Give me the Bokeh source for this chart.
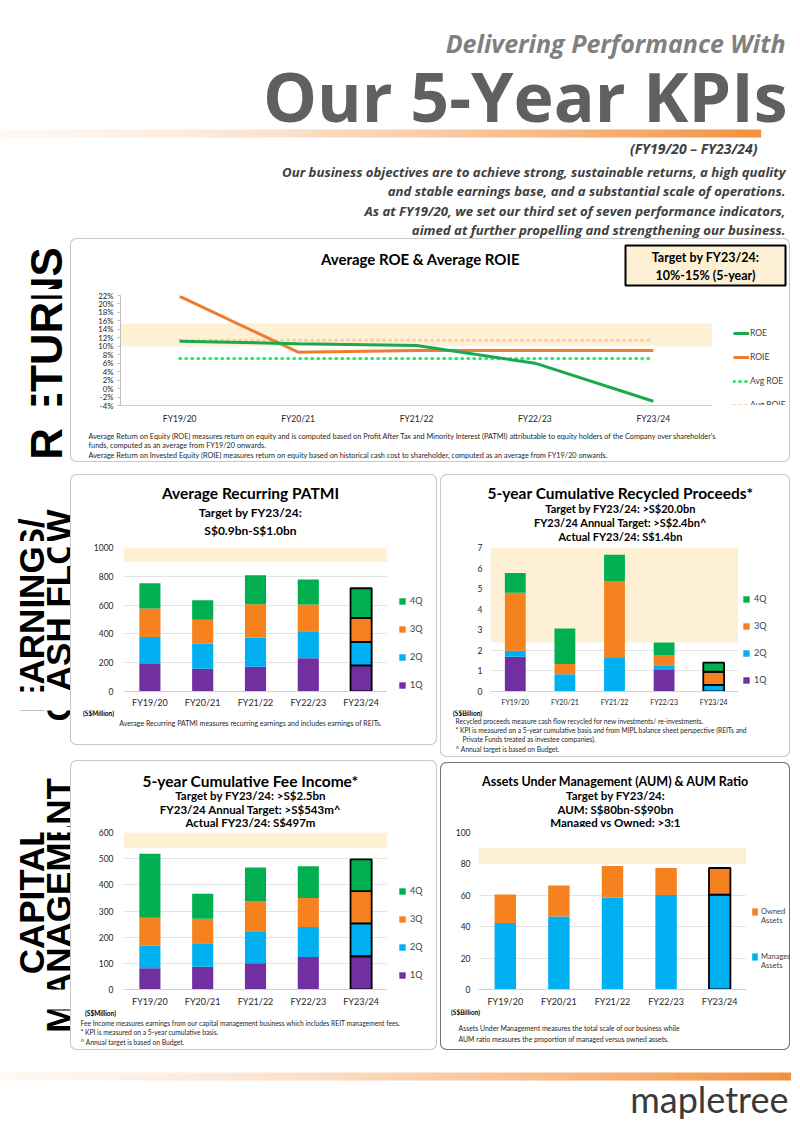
import math
from bokeh.plotting import figure
from bokeh.models import (Range1d, FactorRange, Label, Legend, LegendItem, ColumnDataSource,
                          FixedTicker, PrintfTickFormatter, BoxAnnotation)
from bokeh.layouts import column, row
from bokeh.embed import file_html
from bokeh.resources import INLINE
from bokeh.core.properties import field, value

# ---------------- data ----------------
years = ["FY19/20", "FY20/21", "FY21/22", "FY22/23", "FY23/24"]
highlight = "FY23/24"

roe = [11.2, 10.6, 10.2, 6.0, -3.0]
roie = [21.8, 8.6, 9.0, 9.0, 9.0]
avg_roe = [7.1, 7.1, 7.1, 7.1, 7.1]
avg_roie = [11.4, 11.4, 11.4, 11.4, 11.4]
roe_target = [10.0, 15.4]
roe_ticks = [-4, -2, 0, 2, 4, 6, 8, 10, 12, 14, 16, 18, 20, 22]

patmi_1q = [197, 158, 172, 231, 181]
patmi_2q = [181, 175, 201, 188, 163]
patmi_3q = [199, 165, 233, 185, 167]
patmi_4q = [174, 135, 202, 174, 206]
patmi_target = [900, 1000]
patmi_ticks = [0, 200, 400, 600, 800, 1000]

rec_1q = [1.69, 0.0, 0.0, 1.05, 0.0]
rec_2q = [0.29, 0.84, 1.63, 0.22, 0.32]
rec_3q = [2.82, 0.50, 3.72, 0.50, 0.64]
rec_4q = [0.96, 1.72, 1.30, 0.61, 0.44]
rec_target = [2.4, 7.0]
rec_ticks = [0, 1, 2, 3, 4, 5, 6, 7]

fee_1q = [81, 87, 100, 124, 127]
fee_2q = [86, 90, 120, 115, 126]
fee_3q = [107, 93, 116, 111, 123]
fee_4q = [245, 96, 130, 121, 121]
fee_target = [540, 600]
fee_ticks = [0, 100, 200, 300, 400, 500, 600]

aum_managed = [42.3, 46.5, 58.5, 60.2, 60.4]
aum_owned = [18.2, 19.8, 20.2, 17.2, 17.0]
aum_target = [80, 90]
aum_ticks = [0, 20, 40, 60, 80, 100]

quarters = ["1Q", "2Q", "3Q", "4Q"]

# ---------------- styles ----------------
FONT = "Lato"
HFONT = "Open Sans"
SFONT = "Liberation Sans"
QCOL = ["#7030a0", "#00b0f0", "#f5821f", "#00b050"]
BAND = "#fdf0d5"
TXT = "#262626"
LIGHT = "#c8c8c8"
DARK = "#707070"
C_ROE, C_ROIE, C_AROE, C_AROIE = "#1ca84c", "#ee7d31", "#2ee86b", "#f9cda6"


def mix(c0, c1, t):
    a = [int(c0[i:i + 2], 16) for i in (1, 3, 5)]
    b = [int(c1[i:i + 2], 16) for i in (1, 3, 5)]
    return "#%02x%02x%02x" % tuple(round(a[k] + (b[k] - a[k]) * t) for k in range(3))


def frame_style(part, color):
    if part is None:
        return {}
    sh = []
    rad = "0"
    if part in ("top", "bottom", "mid", "midL"):
        sh.append(f"inset 1px 0 0 {color}")
    if part in ("top", "bottom", "mid", "midR"):
        sh.append(f"inset -1px 0 0 {color}")
    if part == "top":
        sh.append(f"inset 0 1px 0 {color}")
        rad = "7px 7px 0 0"
    elif part == "bottom":
        sh.append(f"inset 0 -1px 0 {color}")
        rad = "0 0 7px 7px"
    return {"box-shadow": ", ".join(sh), "border-radius": rad}


def deco(W, H, part=None, color=LIGHT, margin=(0, 0, 0, 0)):
    p = figure(width=W, height=H, x_range=Range1d(0, W), y_range=Range1d(H, 0),
               x_axis_type=None, y_axis_type=None, output_backend="svg",
               toolbar_location=None, min_border=0, margin=margin,
               styles=frame_style(part, color))
    p.outline_line_color = None
    p.border_fill_alpha = 0
    p.background_fill_alpha = 0
    return p


def dtext(p, x, y, text, size, font=FONT, style="bold", align="center", color="#000000"):
    p.add_layout(Label(x=x, y=y, text=text, text_font=font, text_font_size=f"{size}px",
                       text_font_style=style, text_align=align, text_baseline="middle",
                       text_color=color))


def side_pieces(heights, labels, size):
    """Side label column split into stacked pieces; each piece shows its slice of the rotated text."""
    pieces = []
    off = 0
    for h in heights:
        p = deco(70, h)
        for x, y, t in labels:
            p.text(x=[x], y=[y - off], text=[t], angle=math.pi / 2, text_font=value(SFONT),
                   text_font_style="bold", text_font_size=value(f"{size}px"), text_align="center",
                   text_baseline="middle", text_color="#000000")
        pieces.append(p)
        off += h
    return pieces


def gradient(p, x0, x1, ytop, ybot, c0, c1, n=90, gamma=1.5):
    step = (x1 - x0) / n
    lefts = [x0 + i * step for i in range(n)]
    rights = [x0 + (i + 1) * step + 0.6 for i in range(n)]
    cols = [mix(c0, c1, (i / (n - 1)) ** gamma) for i in range(n)]
    p.quad(left=lefts, right=rights, top=[ytop] * n, bottom=[ybot] * n,
           fill_color=cols, line_color=None)


def chart(W, H, ml, mt, mb, y_range, ticks, xstand, ystand, color=LIGHT):
    p = figure(width=W, height=H, x_range=FactorRange(*years), y_range=y_range,
               output_backend="svg", toolbar_location=None,
               min_border_left=ml, min_border_right=0, min_border_top=mt, min_border_bottom=mb,
               styles=frame_style("midL", color))
    p.outline_line_color = None
    p.border_fill_alpha = 0
    p.background_fill_alpha = 0
    p.xgrid.grid_line_color = None
    p.ygrid.grid_line_color = "#e4e4e4"
    p.yaxis.ticker = FixedTicker(ticks=ticks)
    for ax in p.axis:
        ax.major_label_text_font = FONT
        ax.major_label_text_color = TXT
        ax.minor_tick_line_color = None
        ax.major_tick_line_color = None
        ax.major_tick_out = 0
        ax.major_tick_in = 0
    p.yaxis.axis_line_color = None
    p.xaxis.axis_line_color = "#d0d0d0"
    p.xaxis.major_label_text_font_size = "9px"
    p.yaxis.major_label_text_font_size = "8.5px"
    p.xaxis.major_label_standoff = xstand
    p.yaxis.major_label_standoff = ystand
    return p


OFF = -5000  # swatch renderers sit far outside the visible range; only their legend glyphs show


def legend_fig(W, H, entries, vx, vy, spacing, size=9, gw=8, gh=8, standoff=4,
               color=LIGHT, margin=(0, 0, 0, 0)):
    """Legend drawn in its own strip to the right of a chart."""
    p = deco(W, H, "midR", color, margin)
    items = []
    for label, kind, kw in entries:
        if kind == "box":
            r = p.vbar(x=[OFF], top=[OFF], bottom=[OFF - 1], width=1, line_color=None, **kw)
        elif kind == "line":
            r = p.line(x=[OFF, OFF + 1], y=[OFF, OFF], **kw)
        else:
            r = p.vbar(x=[], top=[], width=1, fill_alpha=0, line_alpha=0)
        items.append(LegendItem(label=label, renderers=[r]))
    lg = Legend(items=items, location=(vx, vy), orientation="vertical", background_fill_alpha=0,
                border_line_color=None, padding=0, margin=0, spacing=spacing,
                glyph_width=gw, glyph_height=gh, label_height=gh, label_standoff=standoff,
                label_text_font=FONT, label_text_font_size=f"{size}px",
                label_text_color="#404040", label_text_baseline="middle")
    p.add_layout(lg)
    return p


def band(p, lo, hi):
    p.add_layout(BoxAnnotation(bottom=lo, top=hi, fill_color=BAND, fill_alpha=1.0,
                               line_color=None, level="underlay"))


edge = ["#000000" if y == highlight else "rgba(0,0,0,0)" for y in years]


def stacked(p, data, width):
    src = ColumnDataSource(dict(years=years, q1=data[0], q2=data[1], q3=data[2], q4=data[3], edge=edge))
    return p.vbar_stack(["q1", "q2", "q3", "q4"], x="years", width=width, fill_color=QCOL,
                        line_color=field("edge"), line_width=1.8, source=src)


qentries = [(quarters[3], "box", dict(fill_color=QCOL[3])),
            (quarters[2], "box", dict(fill_color=QCOL[2])),
            (quarters[1], "box", dict(fill_color=QCOL[1])),
            (quarters[0], "box", dict(fill_color=QCOL[0]))]

# ---------------- header ----------------
hdr = deco(800, 238)
dtext(hdr, 785, 42, "Delivering Performance With", 25, HFONT, "bold italic", "right", "#808080")
dtext(hdr, 787, 95, "Our 5-Year KPIs", 68, HFONT, "bold", "right", "#606060")
gradient(hdr, 0, 760, 129, 137, "#fef7f2", "#f39140")
dtext(hdr, 757, 148, "(FY19/20 \u2013 FY23/24)", 14, HFONT, "bold italic", "right", "#404040")
para = ["Our business objectives are to achieve strong, sustainable returns, a high quality",
        "and stable earnings base, and a substantial scale of operations.",
        "As at FY19/20, we set our third set of seven performance indicators,",
        "aimed at further propelling and strengthening our business."]
for i, t in enumerate(para):
    dtext(hdr, 785, 171 + 19.5 * i, t, 13.2, HFONT, "bold italic", "right", "#404040")

# ---------------- side labels (pieces per sub-row) ----------------
s1 = side_pieces([51, 137, 38], [(46, 115, "RETURNS")], 44)
s2 = side_pieces([77, 169, 47], [(31, 151, "EARNINGS/"), (58, 151, "CASH FLOW")], 35)
s3 = side_pieces([70, 182, 43], [(31, 148, "CAPITAL"), (58, 148, "MANAGEMENT")], 35)

# ---------------- ROE ----------------
rt = deco(720, 51, "top", margin=(0, 10, 0, 0))
dtext(rt, 350, 20, "Average ROE & Average ROIE", 15)
rt.quad(left=[555], right=[715], top=[7], bottom=[47], fill_color=BAND, line_color="#000000", line_width=2)
dtext(rt, 635, 19, "Target by FY23/24:", 12.5)
dtext(rt, 635, 37, "10%-15% (5-year)", 12.5)

pr = chart(642, 137, 50, 6, 21, Range1d(-4, 22), roe_ticks, 8, 4)
pr.ygrid.grid_line_color = None
pr.yaxis.formatter = PrintfTickFormatter(format="%d%%")
pr.yaxis.axis_line_color = "#bfbfbf"
pr.yaxis.major_tick_line_color = "#bfbfbf"
pr.yaxis.major_tick_out = 3
pr.yaxis.major_label_text_font_size = "7.8px"
pr.xaxis.major_label_text_font_size = "8.5px"
band(pr, roe_target[0], roe_target[1])
rsrc = ColumnDataSource(dict(years=years, roe=roe, roie=roie, avg_roe=avg_roe, avg_roie=avg_roie))
pr.line("years", "avg_roie", source=rsrc, line_color=C_AROIE, line_width=3, line_dash="1 5", line_cap="round")
pr.line("years", "avg_roe", source=rsrc, line_color=C_AROE, line_width=3, line_dash="1 5", line_cap="round")
pr.line("years", "roie", source=rsrc, line_color=C_ROIE, line_width=3)
pr.line("years", "roe", source=rsrc, line_color=C_ROE, line_width=3)
prl = legend_fig(78, 137, [("ROE", "line", dict(line_color=C_ROE, line_width=3)),
                           ("ROIE", "line", dict(line_color=C_ROIE, line_width=3)),
                           ("Avg ROE", "line", dict(line_color=C_AROE, line_width=3, line_dash="1 5", line_cap="round")),
                           ("Avg ROIE", "line", dict(line_color=C_AROIE, line_width=3, line_dash="1 5", line_cap="round"))],
                 21, -5, 14, size=8.5, gw=16, gh=10, standoff=1, margin=(0, 10, 0, 0))

rb = deco(720, 36, "bottom", margin=(0, 10, 2, 0))
notes = ["Average Return on Equity (ROE) measures return on equity and is computed based on Profit After Tax and Minority Interest (PATMI) attributable to equity holders of the Company over shareholder's",
         "funds, computed as an average from FY19/20 onwards.",
         "Average Return on Invested Equity (ROIE) measures return on equity based on historical cash cost to shareholder, computed as an average from FY19/20 onwards."]
for i, t in enumerate(notes):
    dtext(rb, 18, 9.5 + 9.8 * i, t, 7.3, style="normal", align="left", color=TXT)

# ---------------- PATMI ----------------
ptop = deco(367, 67, "top", margin=(10, 3, 0, 0))
dtext(ptop, 180, 18, "Average Recurring PATMI", 15.5)
dtext(ptop, 180, 38, "Target by FY23/24:", 12)
dtext(ptop, 180, 56, "S$0.9bn-S$1.0bn", 12)
pp = chart(317, 169, 53, 6, 15, Range1d(0, 1000), patmi_ticks, 5, 10)
band(pp, patmi_target[0], patmi_target[1])
stacked(pp, [patmi_1q, patmi_2q, patmi_3q, patmi_4q], 0.4)
ppl = legend_fig(50, 169, qentries, 11, 1, 17, margin=(0, 3, 0, 0))
pbot = deco(367, 35, "bottom", margin=(0, 3, 12, 0))
dtext(pbot, 28, 3, "(S$Million)", 6.5)
dtext(pbot, 180, 12, "Average Recurring PATMI measures recurring earnings and includes earnings of REITs.",
      7, style="normal", color=TXT)

# ---------------- Recycled ----------------
ctop = deco(350, 67, "top", margin=(10, 10, 0, 0))
dtext(ctop, 180, 18, "5-year Cumulative Recycled Proceeds*", 15.5)
dtext(ctop, 180, 34, "Target by FY23/24: >S$20.0bn", 11)
dtext(ctop, 180, 48, "FY23/24 Annual Target: >S$2.4bn^", 11)
dtext(ctop, 180, 62, "Actual FY23/24: S$1.4bn", 11)
pc = chart(298, 169, 50, 5, 18, Range1d(0, 7), rec_ticks, 6, 8)
pc.xaxis.major_label_text_font_size = "7px"
band(pc, rec_target[0], rec_target[1])
stacked(pc, [rec_1q, rec_2q, rec_3q, rec_4q], 0.42)
pcl = legend_fig(52, 169, qentries, 4, 6, 16, margin=(0, 10, 0, 0))
cbot = deco(350, 47, "bottom", margin=(0, 10, 0, 0))
dtext(cbot, 27, 2.5, "(S$Billion)", 6.5)
rnotes = [(15, "Recycled proceeds measure cash flow recycled for new investments/ re-investments."),
          (15, "* KPI is measured on a 5-year cumulative basis and from MIPL balance sheet perspective (REITs and"),
          (22, "Private Funds treated as investee companies)."),
          (15, "^ Annual target is based on Budget.")]
for i, (x, t) in enumerate(rnotes):
    dtext(cbot, x, 10 + 9.4 * i, t, 6.7, style="normal", align="left", color=TXT)

# ---------------- Fee income ----------------
ftop = deco(367, 67, "top", margin=(3, 3, 0, 0))
dtext(ftop, 180, 20, "5-year Cumulative Fee Income*", 15.5)
dtext(ftop, 180, 35, "Target by FY23/24: >S$2.5bn", 11.5)
dtext(ftop, 180, 49, "FY23/24 Annual Target: >S$543m^", 11.5)
dtext(ftop, 180, 62, "Actual FY23/24: S$497m", 11.5)
pf = chart(317, 182, 53, 5, 17, Range1d(0, 600), fee_ticks, 6, 10)
band(pf, fee_target[0], fee_target[1])
stacked(pf, [fee_1q, fee_2q, fee_3q, fee_4q], 0.4)
pfl = legend_fig(50, 182, qentries, 11, 9, 17, margin=(0, 3, 0, 0))
fbot = deco(367, 41, "bottom", margin=(0, 3, 2, 0))
dtext(fbot, 30, 4, "(S$Million)", 6.5)
fnotes = ["Fee Income measures earnings from our capital management business which includes REIT management fees.",
          "* KPI is measured on a 5-year cumulative basis.",
          "^ Annual target is based on Budget."]
for i, t in enumerate(fnotes):
    dtext(fbot, 10, 13 + 9.5 * i, t, 6.7, style="normal", align="left", color=TXT)

# ---------------- AUM ----------------
atop = deco(350, 65, "top", color=DARK, margin=(5, 10, 0, 0))
dtext(atop, 175, 19, "Assets Under Management (AUM) & AUM Ratio", 12.5)
dtext(atop, 175, 33, "Target by FY23/24:", 11.5)
dtext(atop, 175, 47, "AUM: S$80bn-S$90bn", 11.5)
dtext(atop, 175, 60, "Managed vs Owned: >3:1", 11.5)
pa = chart(306, 182, 38, 5, 17, Range1d(0, 100), aum_ticks, 6, 8, color=DARK)
band(pa, aum_target[0], aum_target[1])
asrc = ColumnDataSource(dict(years=years, managed=aum_managed, owned=aum_owned, edge=edge))
pa.vbar_stack(["managed", "owned"], x="years", width=0.4, fill_color=["#00b0f0", "#f5821f"],
              line_color=field("edge"), line_width=1.8, source=asrc)
pal = legend_fig(44, 182, [("Owned", "box", dict(fill_color="#f5821f")), ("Assets", "blank", None),
                           (" ", "blank", None), (" ", "blank", None), (" ", "blank", None),
                           ("Managed", "box", dict(fill_color="#00b0f0")), ("Assets", "blank", None)],
                 5, 19, 0, size=7.5, gw=7, gh=9, standoff=3, color=DARK, margin=(0, 10, 0, 0))
abot = deco(350, 41, "bottom", color=DARK, margin=(0, 10, 2, 0))
dtext(abot, 25, 3, "(S$Billion)", 6.5)
anotes = ["Assets Under Management measures the total scale of our business while",
          "AUM ratio measures the proportion of managed versus owned assets."]
for i, t in enumerate(anotes):
    dtext(abot, 18, 18 + 11 * i, t, 6.9, style="normal", align="left", color=TXT)

# ---------------- footer ----------------
ftr = deco(800, 78)
gradient(ftr, 0, 790, 20, 28, "#fef7f2", "#f39140")
dtext(ftr, 788, 46, "mapletree", 36, FONT, "normal", "right", "#3a3a3a")

layout = column(
    hdr,
    row(s1[0], rt), row(s1[1], pr, prl), row(s1[2], rb),
    row(s2[0], ptop, ctop), row(s2[1], pp, ppl, pc, pcl), row(s2[2], pbot, cbot),
    row(s3[0], ftop, atop), row(s3[1], pf, pfl, pa, pal), row(s3[2], fbot, abot),
    ftr)
open("out.html", "w").write(file_html(layout, INLINE))
